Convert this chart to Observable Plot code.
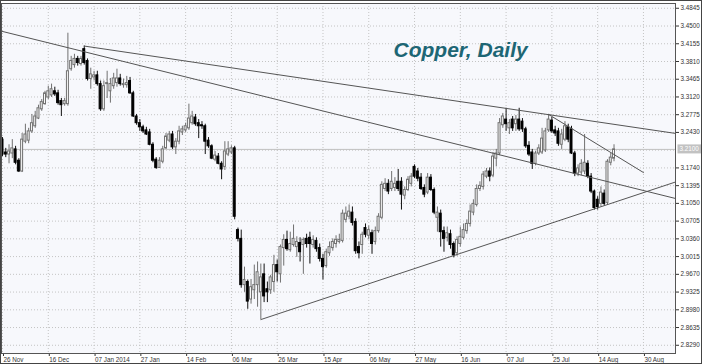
<!DOCTYPE html>
<html><head><meta charset="utf-8">
<script src="https://cdn.jsdelivr.net/npm/d3@7"></script>
<script src="https://cdn.jsdelivr.net/npm/@observablehq/plot@0.6"></script>
<style>
html,body{margin:0;padding:0;background:#fff;}
#chart{width:702px;height:364px;overflow:hidden;}
</style></head><body><div id="chart"></div>
<script>
// Daily OHLC, bar index 0 = 26 Nov 2013
const open = [3.229,3.204,3.200,3.202,3.210,3.188,3.167,3.225,3.227,3.245,
3.255,3.270,3.288,3.298,3.311,3.315,3.323,3.319,3.304,3.298,
3.298,3.366,3.374,3.386,3.376,3.405,3.382,3.347,3.350,3.354,
3.337,3.288,3.337,3.323,3.333,3.339,3.348,3.335,3.335,3.343,
3.319,3.274,3.261,3.253,3.247,3.243,3.219,3.190,3.174,3.186,
3.212,3.227,3.239,3.214,3.225,3.243,3.247,3.251,3.261,3.272,
3.261,3.257,3.255,3.227,3.216,3.190,3.196,3.182,3.176,3.200,
3.204,3.212,3.053,3.036,2.946,2.952,2.918,2.936,2.946,2.932,
2.967,2.938,2.936,2.952,2.985,2.967,3.018,3.034,3.014,3.024,
3.020,3.028,3.024,3.036,3.038,3.024,3.032,3.018,2.997,2.983,
3.008,3.018,3.026,3.030,3.032,3.073,3.079,3.087,3.069,3.020,
3.024,3.057,3.042,3.047,3.030,3.051,3.077,3.133,3.143,3.133,
3.135,3.147,3.147,3.120,3.131,3.143,3.176,3.167,3.155,3.135,
3.126,3.155,3.131,3.077,3.085,3.051,3.038,3.045,3.026,3.008,
3.026,3.038,3.051,3.065,3.087,3.102,3.133,3.137,3.157,3.167,
3.159,3.192,3.202,3.257,3.268,3.251,3.268,3.259,3.268,3.264,
3.249,3.217,3.204,3.182,3.202,3.204,3.208,3.247,3.266,3.247,
3.245,3.219,3.229,3.253,3.249,3.202,3.163,3.165,3.167,3.182,
3.157,3.128,3.112,3.104,3.124,3.106,3.184,3.192];
const high = [3.233,3.212,3.219,3.229,3.216,3.192,3.241,3.259,3.251,3.278,
3.284,3.296,3.307,3.323,3.333,3.337,3.331,3.325,3.309,3.309,
3.436,3.391,3.395,3.391,3.391,3.411,3.386,3.368,3.362,3.362,
3.343,3.343,3.362,3.348,3.358,3.366,3.356,3.347,3.352,3.350,
3.323,3.278,3.268,3.257,3.253,3.249,3.223,3.194,3.194,3.216,
3.241,3.245,3.245,3.231,3.255,3.255,3.261,3.298,3.284,3.278,
3.268,3.264,3.259,3.233,3.219,3.206,3.202,3.186,3.225,3.225,
3.217,3.216,3.057,3.053,2.981,2.956,2.957,2.985,2.991,2.987,
2.987,2.952,2.965,3.004,2.995,3.024,3.044,3.051,3.049,3.063,
3.040,3.038,3.038,3.045,3.049,3.042,3.038,3.026,3.006,3.016,
3.030,3.036,3.042,3.045,3.092,3.098,3.102,3.098,3.075,3.030,
3.049,3.065,3.061,3.053,3.059,3.085,3.147,3.153,3.151,3.167,
3.155,3.171,3.155,3.137,3.157,3.163,3.180,3.173,3.163,3.141,
3.163,3.161,3.135,3.098,3.092,3.059,3.059,3.053,3.030,3.040,
3.059,3.065,3.073,3.102,3.112,3.141,3.147,3.167,3.173,3.174,
3.204,3.210,3.270,3.280,3.290,3.268,3.274,3.276,3.290,3.270,
3.253,3.225,3.210,3.206,3.219,3.251,3.251,3.278,3.272,3.255,
3.251,3.249,3.264,3.259,3.255,3.206,3.180,3.190,3.239,3.188,
3.163,3.131,3.118,3.137,3.131,3.190,3.202,3.219];
const low = [3.196,3.194,3.182,3.192,3.180,3.165,3.165,3.221,3.221,3.241,
3.251,3.268,3.284,3.296,3.307,3.311,3.313,3.296,3.274,3.294,
3.294,3.362,3.368,3.372,3.372,3.374,3.343,3.327,3.343,3.333,
3.284,3.284,3.309,3.300,3.327,3.331,3.333,3.329,3.329,3.317,
3.272,3.257,3.245,3.241,3.237,3.217,3.184,3.171,3.173,3.182,
3.210,3.223,3.210,3.200,3.219,3.237,3.243,3.247,3.257,3.255,
3.231,3.249,3.200,3.212,3.190,3.186,3.180,3.151,3.169,3.196,
3.200,3.073,3.030,2.940,2.932,2.899,2.909,2.918,2.903,2.879,
2.912,2.912,2.928,2.932,2.952,2.950,2.983,3.012,3.010,3.020,
3.000,2.991,2.967,3.018,2.987,3.018,3.010,2.991,2.956,2.979,
3.002,3.012,3.018,3.026,3.028,3.067,3.073,3.061,3.006,2.997,
3.006,3.038,3.034,3.006,3.024,3.047,3.073,3.128,3.122,3.128,
3.128,3.128,3.092,3.112,3.128,3.137,3.153,3.147,3.130,3.116,
3.122,3.128,3.083,3.049,3.020,3.010,3.030,3.016,2.999,3.002,
3.020,3.034,3.045,3.059,3.081,3.098,3.128,3.131,3.153,3.147,
3.155,3.176,3.198,3.251,3.245,3.239,3.245,3.245,3.245,3.243,
3.212,3.196,3.171,3.178,3.198,3.200,3.204,3.243,3.241,3.235,
3.216,3.210,3.225,3.223,3.200,3.157,3.157,3.159,3.161,3.153,
3.124,3.092,3.092,3.098,3.100,3.102,3.178,3.186];
const close = [3.200,3.200,3.206,3.212,3.184,3.167,3.229,3.239,3.245,3.261,
3.274,3.290,3.302,3.319,3.323,3.327,3.317,3.300,3.296,3.304,
3.362,3.382,3.386,3.378,3.386,3.378,3.347,3.356,3.354,3.337,
3.288,3.333,3.339,3.337,3.348,3.348,3.337,3.337,3.339,3.319,
3.274,3.261,3.253,3.245,3.239,3.219,3.188,3.174,3.188,3.210,
3.235,3.239,3.214,3.225,3.245,3.249,3.255,3.270,3.274,3.259,
3.255,3.255,3.225,3.216,3.192,3.198,3.182,3.171,3.206,3.210,
3.212,3.079,3.036,2.946,2.956,2.914,2.942,2.946,2.971,2.961,
2.924,2.932,2.961,2.985,2.971,3.020,3.034,3.016,3.026,3.036,
3.030,3.010,3.034,3.026,3.026,3.034,3.016,2.997,2.981,3.010,
3.020,3.030,3.034,3.034,3.085,3.085,3.089,3.067,3.012,3.008,
3.044,3.044,3.053,3.026,3.051,3.079,3.141,3.143,3.128,3.147,
3.143,3.133,3.122,3.131,3.151,3.157,3.157,3.153,3.133,3.122,
3.155,3.131,3.087,3.087,3.049,3.036,3.047,3.024,3.004,3.034,
3.040,3.053,3.065,3.089,3.104,3.133,3.139,3.161,3.167,3.157,
3.196,3.202,3.261,3.274,3.259,3.261,3.251,3.268,3.249,3.249,
3.216,3.200,3.182,3.202,3.212,3.231,3.245,3.268,3.245,3.241,
3.221,3.239,3.255,3.229,3.202,3.163,3.173,3.182,3.184,3.157,
3.128,3.096,3.098,3.126,3.104,3.186,3.194,3.210];

const xTickIndex = [0,14,28,42,56,70,84,98,112,126,140,154,168,182,196];
const xTickLabels = ["26 Nov","16 Dec","07 Jan 2014","27 Jan","14 Feb","06 Mar","26 Mar","15 Apr","06 May","27 May","16 Jun","07 Jul","25 Jul","14 Aug","30 Aug"];
const yTicks = [3.4845,3.4500,3.4155,3.3810,3.3465,3.3120,3.2775,3.2430,3.1740,3.1395,3.1050,3.0705,3.0360,3.0015,2.9670,2.9325,2.8980,2.8635,2.8290];
const yGrid = [3.4845,3.4500,3.4155,3.3810,3.3465,3.3120,3.2775,3.2430,3.2085,3.1740,3.1395,3.1050,3.0705,3.0360,3.0015,2.9670,2.9325,2.8980,2.8635,2.8290];
const lastPrice = 3.2100;
const title = "Copper, Daily";

// trend lines: [bar index, price] anchors
const trendA = [[-1, 3.4410], [206, 3.1142]];
const trendB = [[25, 3.411], [206, 3.2409]];
const trendC = [[79, 2.879], [206, 3.147]];
const trendD = [[167, 3.278], [196, 3.165]];

const candles = close.map((c, i) => ({i, o: open[i], h: high[i], l: low[i], c, up: c >= open[i]}));
const labelOf = new Map(xTickIndex.map((d, k) => [d, xTickLabels[k]]));
const font = "Liberation Sans, Arial, sans-serif";
const lineOpts = {x: d => d[0], y: d => d[1], stroke: "#555", strokeWidth: 1, clip: true};

const chart = Plot.plot({
  width: 702, height: 364,
  marginLeft: 1, marginRight: 27, marginTop: 3, marginBottom: 11,
  style: {fontFamily: font, background: "#fff", overflow: "visible"},
  x: {type: "linear", domain: [-0.306, 205.8]},
  y: {type: "linear", domain: [2.8130, 3.4938]},
  marks: [
    Plot.frame({fill: "#f7f8fc", stroke: null}),
    Plot.ruleY(yGrid, {stroke: "#c4c4c4", strokeDasharray: "1,2"}),
    Plot.ruleX(xTickIndex, {stroke: "#c4c4c4", strokeDasharray: "1,2"}),
    Plot.ruleY([lastPrice], {stroke: "#c0c0c0"}),
    Plot.ruleX(candles, {x: "i", y1: "l", y2: "h", stroke: d => d.up ? "#707070" : "#111"}),
    Plot.rect(candles, {x1: d => d.i - 0.3, x2: d => d.i + 0.3, y1: "o", y2: "c",
      fill: d => d.up ? "#fff" : "#000", stroke: d => d.up ? "#707070" : "#000", strokeWidth: 1}),
    Plot.line(trendA, lineOpts),
    Plot.line(trendB, lineOpts),
    Plot.line(trendC, lineOpts),
    Plot.line(trendD, lineOpts),
    Plot.text([title], {frameAnchor: "top-left", dx: 392, dy: 53.7, lineAnchor: "bottom", textAnchor: "start",
      fontSize: 21, fontWeight: "bold", fontStyle: "italic", fill: "#1d6674", fontFamily: font}),
    Plot.axisY(yTicks, {anchor: "right", tickSize: 3, tickPadding: 2, tickFormat: d => d.toFixed(4),
      fontSize: 6.3, color: "#333", label: null}),
    Plot.axisX(xTickIndex, {anchor: "bottom", tickSize: 3, tickPadding: 1, tickFormat: d => labelOf.get(d),
      textAnchor: "start", dx: 1, fontSize: 6.3, color: "#333", label: null}),
    Plot.text([lastPrice], {y: d => d, frameAnchor: "right", dx: 4, textAnchor: "start",
      text: d => d.toFixed(4), fill: "#fff", fontSize: 6.3, fontFamily: font}),
    Plot.frame({stroke: "#555"})
  ]
});
document.getElementById("chart").appendChild(chart);

// background box behind the current-price label, outer border
const svg = d3.select(chart);
svg.selectAll("text").filter(function() { return this.textContent === "3.2100" && this.getAttribute("fill") !== "#333"; })
  .each(function() {
    const b = this.getBBox();
    const g = this.parentNode;
    const t = this.getAttribute("transform");
    const r = document.createElementNS("http://www.w3.org/2000/svg", "rect");
    r.setAttribute("x", b.x - 2); r.setAttribute("y", b.y - 1);
    r.setAttribute("width", b.width + 5); r.setAttribute("height", b.height + 2);
    r.setAttribute("fill", "#c2c2c2");
    if (t) r.setAttribute("transform", t);
    g.insertBefore(r, this);
  });
svg.append("rect").attr("x", 0.5).attr("y", 0.5).attr("width", 701).attr("height", 363)
  .attr("fill", "none").attr("stroke", "#444");
</script>
</body></html>
